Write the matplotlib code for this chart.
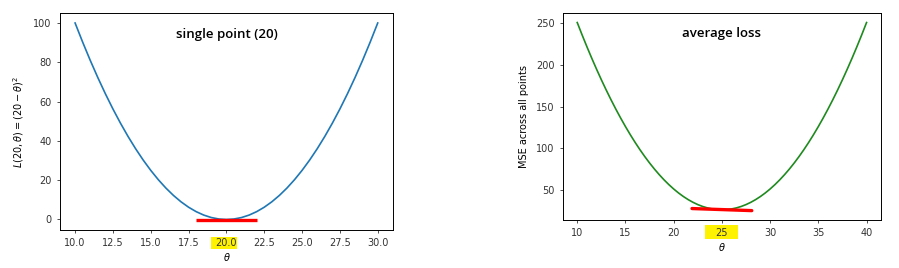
import numpy as np
import matplotlib
matplotlib.use("Agg")
import matplotlib.pyplot as plt
from matplotlib.patches import Rectangle

# single point loss, theta 10..30 in steps of 0.5
theta_single = np.arange(10, 30.5, 0.5)
loss_single = [100, 90.25, 81, 72.25, 64, 56.25, 49, 42.25, 36, 30.25, 25, 20.25, 16,
               12.25, 9, 6.25, 4, 2.25, 1, 0.25, 0,
               0.25, 1, 2.25, 4, 6.25, 9, 12.25, 16, 20.25, 25, 30.25, 36, 42.25, 49,
               56.25, 64, 72.25, 81, 90.25, 100]

# average loss (MSE), theta 10..40 in steps of 0.5
theta_avg = np.arange(10, 40.5, 0.5)
loss_avg = [251, 236.25, 222, 208.25, 195, 182.25, 170, 158.25, 147, 136.25, 126, 116.25,
            107, 98.25, 90, 82.25, 75, 68.25, 62, 56.25, 51, 46.25, 42, 38.25, 35, 32.25,
            30, 28.25, 27, 26.25, 26,
            26.25, 27, 28.25, 30, 32.25, 35, 38.25, 42, 46.25, 51, 56.25, 62, 68.25, 75,
            82.25, 90, 98.25, 107, 116.25, 126, 136.25, 147, 158.25, 170, 182.25, 195,
            208.25, 222, 236.25, 251]

# red "flat" segments near the minimum
flat_single_x = [18, 22]
flat_single_y = [-0.3, -0.3]
flat_avg_x = [21.9, 28.1]
flat_avg_y = [27.5, 25.0]

left_xticks = [10.0, 12.5, 15.0, 17.5, 20.0, 22.5, 25.0, 27.5, 30.0]
left_yticks = [0, 20, 40, 60, 80, 100]
right_xticks = [10, 15, 20, 25, 30, 35, 40]
right_yticks = [50, 100, 150, 200, 250]

plt.rcParams['font.size'] = 7
plt.rcParams['axes.linewidth'] = 0.7
plt.rcParams['xtick.major.size'] = 2.5
plt.rcParams['ytick.major.size'] = 2.5
plt.rcParams['xtick.major.width'] = 0.6
plt.rcParams['ytick.major.width'] = 0.6
plt.rcParams['xtick.color'] = '#333333'
plt.rcParams['ytick.color'] = '#333333'

fig = plt.figure(figsize=(8.99, 2.68), dpi=100)
ax1 = fig.add_axes([0.0667, 0.142, 0.3703, 0.809])
ax2 = fig.add_axes([0.626, 0.179, 0.354, 0.772])

# left plot
ax1.plot(theta_single, loss_single, color='#1f77b4', lw=1.2)
ax1.plot(flat_single_x, flat_single_y, color='red', lw=2.4, solid_capstyle='butt')
ax1.set_xticks(left_xticks)
ax1.set_yticks(left_yticks)
ax1.set_xlabel(r'$\theta$', labelpad=2)
ax1.set_ylabel(r'$L(20, \theta) = (20 - \theta)^2$', labelpad=5)
ax1.text(0.5, 0.9, 'single point (20)', transform=ax1.transAxes, ha='center', va='center',
         fontsize=9.5, fontweight='semibold', family='Open Sans')
ax1.add_patch(Rectangle((18.95, -0.0876), 1.73, 0.0556, transform=ax1.get_xaxis_transform(),
                        facecolor='#fff200', edgecolor='none', clip_on=False, zorder=0.5))

# right plot
ax2.plot(theta_avg, loss_avg, color='#1f8a1f', lw=1.2)
ax2.plot(flat_avg_x, flat_avg_y, color='red', lw=2.4, solid_capstyle='round')
ax2.set_xticks(right_xticks)
ax2.set_yticks(right_yticks)
ax2.set_xlabel(r'$\theta$', labelpad=2)
ax2.set_ylabel('MSE across all points', labelpad=5)
ax2.text(0.5, 0.9, 'average loss', transform=ax2.transAxes, ha='center', va='center',
         fontsize=9.5, fontweight='semibold', family='Open Sans')
ax2.add_patch(Rectangle((23.27, -0.092), 3.41, 0.068, transform=ax2.get_xaxis_transform(),
                        facecolor='#fff200', edgecolor='none', clip_on=False, zorder=0.5))

fig.savefig('out.png', dpi=100)
